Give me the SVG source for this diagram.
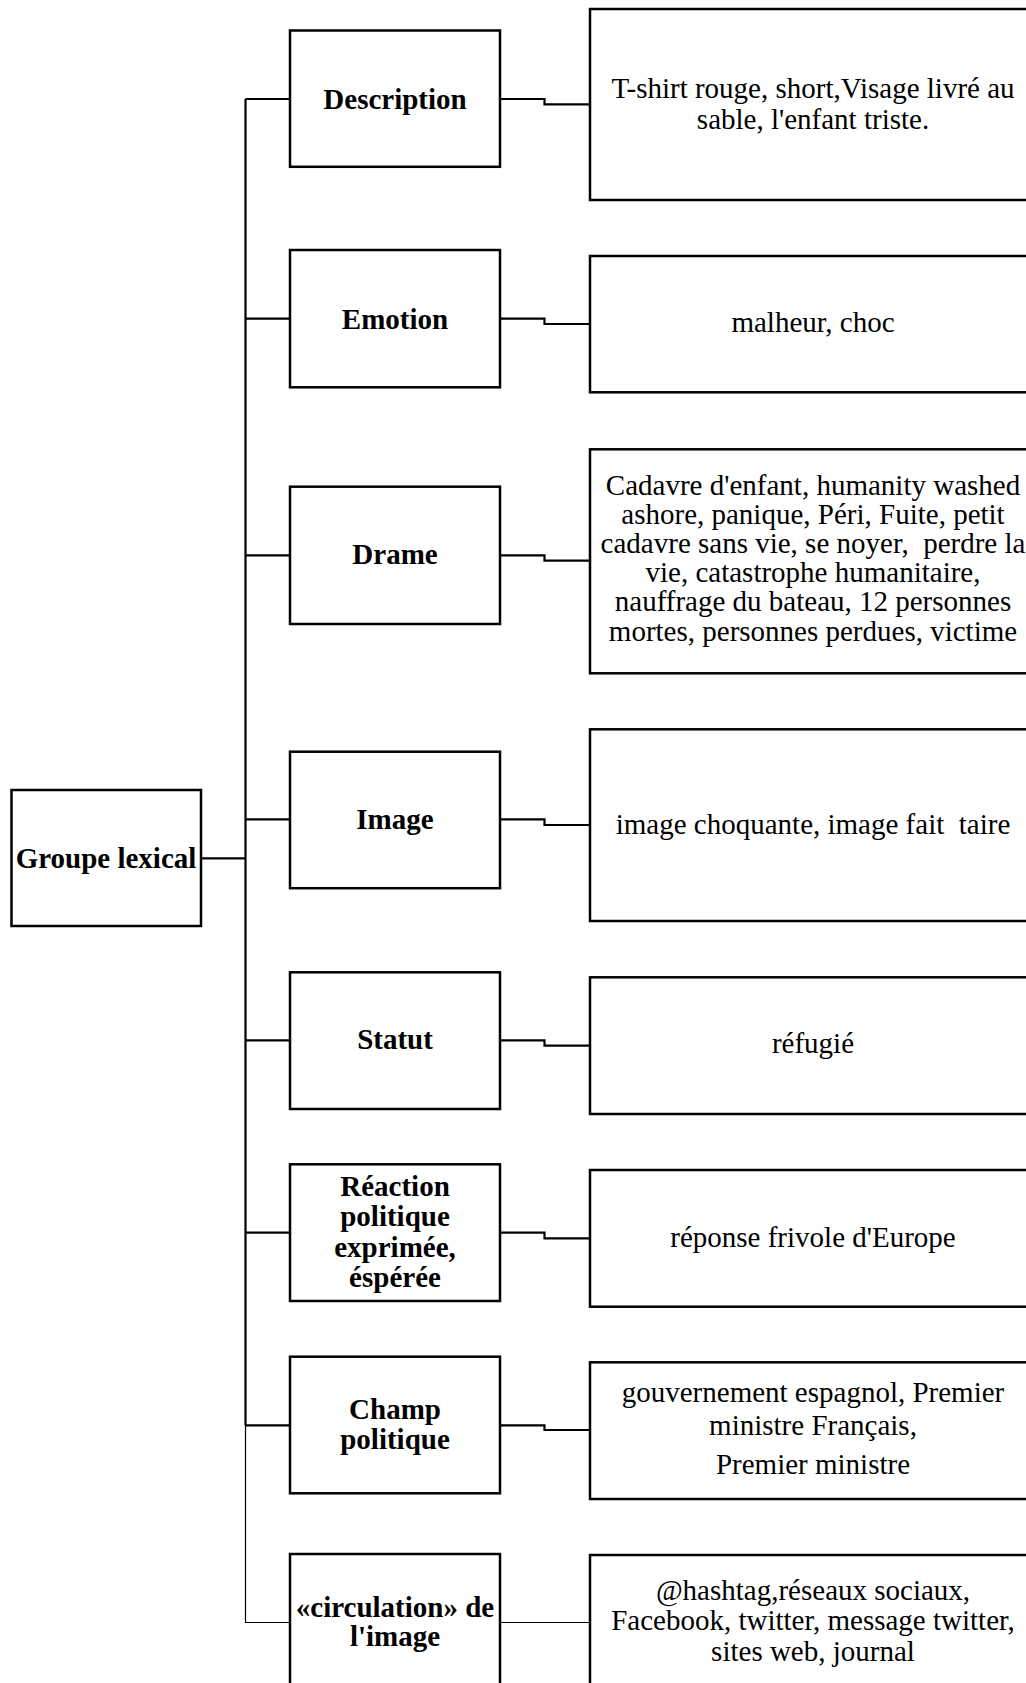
<svg xmlns="http://www.w3.org/2000/svg" width="1026" height="1683" viewBox="0 0 1026 1683">
<style>
.box{fill:#fff;stroke:#000;stroke-width:2.5}
.c{fill:none;stroke:#000;stroke-width:2.2}
.t{stroke-width:1.2}
text{font-family:"Liberation Serif","Times New Roman",serif;font-size:29px;fill:#000;text-anchor:middle}
.b{font-weight:bold}
.p{white-space:pre}
</style>
<rect width="1026" height="1683" fill="#fff"/>
<g id="connectors">
<path class="c" d="M245.5 99V1425.3"/>
<path class="c t" d="M245.5 1425V1622.5H290"/>
<path class="c" d="M201 858.3H245.5"/>
<path class="c" d="M245.5 99H290M500 99H544.5V104.3H590"/>
<path class="c" d="M245.5 318.7H290M500 318.7H544.5V324H590"/>
<path class="c" d="M245.5 555.3H290M500 555.3H544.5V560.7H590"/>
<path class="c" d="M245.5 819.3H290M500 819.3H544.5V825H590"/>
<path class="c" d="M245.5 1040.3H290M500 1040.3H544.5V1045.7H590"/>
<path class="c" d="M245.5 1232.7H290M500 1232.7H544.5V1238.3H590"/>
<path class="c" d="M245.5 1425.3H290M500 1425.3H544.5V1430H590"/>
<path class="c t" d="M500 1622.5H590"/>
</g>
<g id="root">
<rect class="box" x="11.5" y="790" width="189.5" height="136"/>
<text class="b" x="106" y="867.5">Groupe lexical</text>
</g>
<g id="description">
<rect class="box" x="290" y="30.5" width="210" height="136.3"/>
<text class="b" x="395" y="109">Description</text>
</g>
<g id="description-detail">
<rect class="box" x="590" y="9" width="446" height="191"/>
<text x="813" y="97.5">T-shirt rouge, short,Visage livré au</text>
<text x="813" y="128.5">sable, l'enfant triste.</text>
</g>
<g id="emotion">
<rect class="box" x="290" y="250" width="210" height="137.3"/>
<text class="b" x="395" y="328.5">Emotion</text>
</g>
<g id="emotion-detail">
<rect class="box" x="590" y="256" width="446" height="136.3"/>
<text x="813" y="332">malheur, choc</text>
</g>
<g id="drame">
<rect class="box" x="290" y="486.7" width="210" height="137.3"/>
<text class="b" x="395" y="563.5">Drame</text>
</g>
<g id="drame-detail">
<rect class="box" x="590" y="449.3" width="446" height="224"/>
<text x="813" y="494.5">Cadavre d'enfant, humanity washed</text>
<text x="813" y="523.7">ashore, panique, Péri, Fuite, petit</text>
<text class="p" x="813" y="552.9" xml:space="preserve">cadavre sans vie, se noyer,  perdre la</text>
<text x="813" y="582.1">vie, catastrophe humanitaire,</text>
<text x="813" y="611.3">nauffrage du bateau, 12 personnes</text>
<text x="813" y="640.5">mortes, personnes perdues, victime</text>
</g>
<g id="image">
<rect class="box" x="290" y="751.7" width="210" height="136.5"/>
<text class="b" x="395" y="828.5">Image</text>
</g>
<g id="image-detail">
<rect class="box" x="590" y="729.3" width="446" height="191.7"/>
<text class="p" x="813" y="833.5" xml:space="preserve">image choquante, image fait  taire</text>
</g>
<g id="statut">
<rect class="box" x="290" y="972.3" width="210" height="136.7"/>
<text class="b" x="395" y="1048.5">Statut</text>
</g>
<g id="statut-detail">
<rect class="box" x="590" y="977.3" width="446" height="136.7"/>
<text x="813" y="1053">réfugié</text>
</g>
<g id="reaction">
<rect class="box" x="290" y="1164.3" width="210" height="136.7"/>
<text class="b" x="395" y="1195.5">Réaction</text>
<text class="b" x="395" y="1226">politique</text>
<text class="b" x="395" y="1256.5">exprimée,</text>
<text class="b" x="395" y="1287">éspérée</text>
</g>
<g id="reaction-detail">
<rect class="box" x="590" y="1170" width="446" height="136.7"/>
<text x="813" y="1246.5">réponse frivole d'Europe</text>
</g>
<g id="champ">
<rect class="box" x="290" y="1356.7" width="210" height="136.6"/>
<text class="b" x="395" y="1418.5">Champ</text>
<text class="b" x="395" y="1448.5">politique</text>
</g>
<g id="champ-detail">
<rect class="box" x="590" y="1362.3" width="446" height="136.7"/>
<text x="813" y="1401.5">gouvernement espagnol, Premier</text>
<text x="813" y="1434.5">ministre Français,</text>
<text x="813" y="1474">Premier ministre</text>
</g>
<g id="circulation">
<rect class="box" x="290" y="1554" width="210" height="137"/>
<text class="b" x="395" y="1616.5">«circulation» de</text>
<text class="b" x="395" y="1646">l'image</text>
</g>
<g id="circulation-detail">
<rect class="box" x="590" y="1555" width="446" height="137"/>
<text x="813" y="1599.5">@hashtag,réseaux sociaux,</text>
<text x="813" y="1630">Facebook, twitter, message twitter,</text>
<text x="813" y="1660.5">sites web, journal</text>
</g>
</svg>
